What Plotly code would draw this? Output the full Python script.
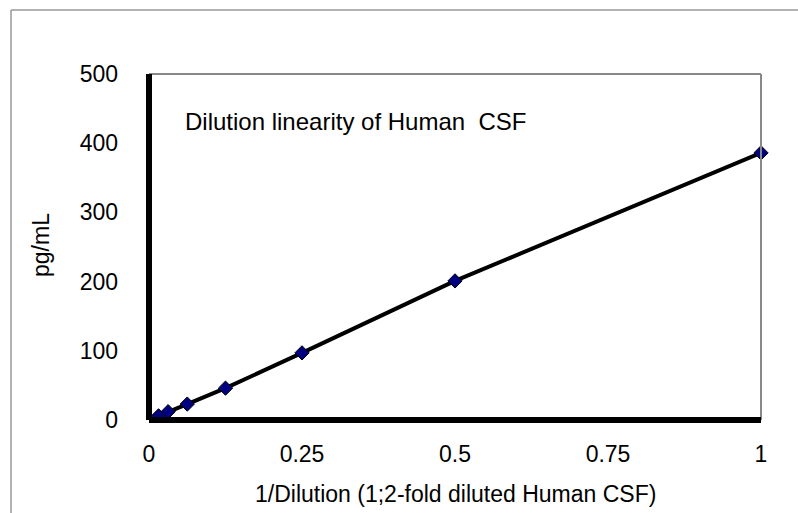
import plotly.graph_objects as go

dilution = [1/64, 1/32, 1/16, 1/8, 1/4, 1/2, 1]
pg_ml = [6, 12, 23, 46, 97, 201, 386]
x_ticks = [0, 0.25, 0.5, 0.75, 1]
x_tick_labels = ["0", "0.25", "0.5", "0.75", "1"]
y_ticks = [0, 100, 200, 300, 400, 500]

W, H = 798, 513
L, R, T, B = 149, 761, 74, 420

fig = go.Figure()
fig.add_trace(go.Scatter(
    x=dilution, y=pg_ml, mode="lines+markers",
    line=dict(color="black", width=4),
    marker=dict(symbol="diamond", size=11, color="#000080",
                line=dict(color="black", width=1)),
    cliponaxis=False, showlegend=False))

FAM = "Liberation Sans, Arial, sans-serif"
font = dict(family=FAM, size=23, color="black")

def px_x(p):
    return (p - L) / (R - L)

def px_y(p):
    return (B - p) / (B - T)

fig.update_layout(
    width=W, height=H,
    margin=dict(l=L, r=W - R, t=T, b=H - B, pad=0),
    paper_bgcolor="white", plot_bgcolor="white",
    font=font,
    xaxis=dict(range=[0, 1], tickvals=x_ticks, ticktext=x_tick_labels,
               showgrid=False, zeroline=False, showline=False,
               ticks="", tickfont=font, ticklabelstandoff=18),
    yaxis=dict(range=[0, 500], tickvals=y_ticks,
               showgrid=False, zeroline=False, showline=False,
               ticks="", tickfont=font, ticklabelstandoff=30),
    shapes=[
        dict(type="line", xref="paper", yref="paper", x0=0, x1=1, y0=1, y1=1,
             line=dict(color="#888888", width=2)),
        dict(type="line", xref="paper", yref="paper", x0=1, x1=1, y0=0, y1=1,
             line=dict(color="#888888", width=2)),
        dict(type="line", xref="paper", yref="paper", x0=0, x1=1, y0=0, y1=0,
             line=dict(color="black", width=6)),
        dict(type="line", xref="paper", yref="paper", x0=0, x1=0, y0=0, y1=1,
             line=dict(color="black", width=6)),
        dict(type="line", xref="paper", yref="paper",
             x0=px_x(11), x1=px_x(11), y0=px_y(10), y1=px_y(513),
             line=dict(color="#999999", width=1.5)),
        dict(type="line", xref="paper", yref="paper",
             x0=px_x(11), x1=px_x(798), y0=px_y(10), y1=px_y(10),
             line=dict(color="#999999", width=1.5)),
    ],
    annotations=[
        dict(text="Dilution linearity of Human  CSF", xref="paper", yref="paper",
             x=px_x(183), y=px_y(121), xanchor="left", yanchor="middle",
             showarrow=False, font=dict(family=FAM, size=24, color="black")),
        dict(text="1/Dilution (1;2-fold diluted Human CSF)", xref="paper", yref="paper",
             x=px_x(455), y=px_y(494), xanchor="center", yanchor="middle",
             showarrow=False, font=font),
        dict(text="pg/mL", xref="paper", yref="paper", textangle=-90,
             x=px_x(41), y=px_y(245), xanchor="center", yanchor="middle",
             showarrow=False, font=font),
    ],
)

fig.write_html("out.html", config={"displayModeBar": False},
               post_script="document.body.style.margin='0';")
